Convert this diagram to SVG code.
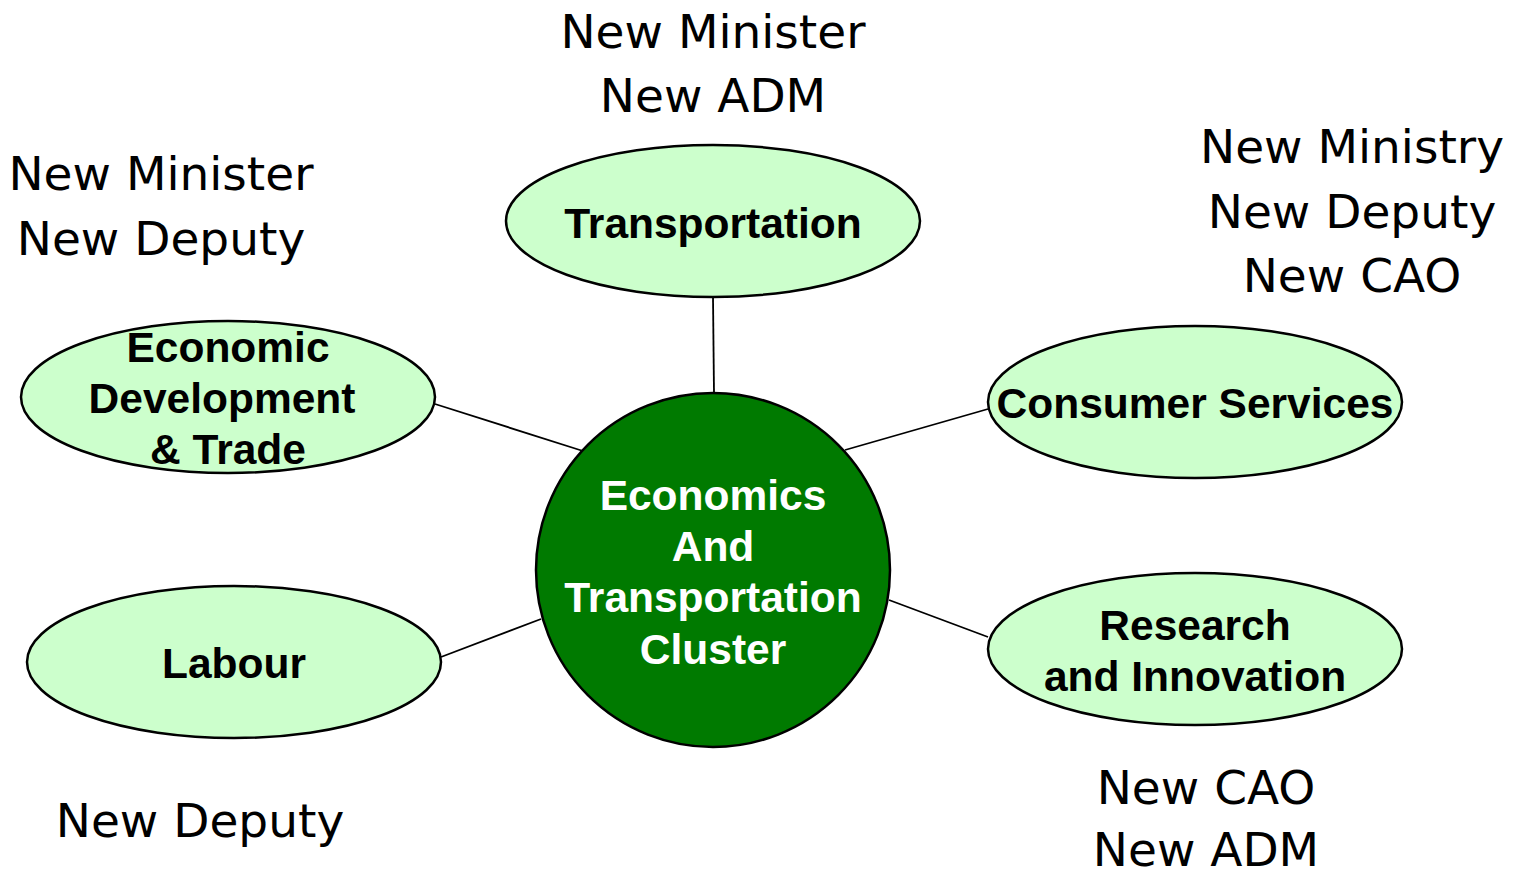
<svg xmlns="http://www.w3.org/2000/svg" width="1522" height="876" viewBox="0 0 1522 876">
<style>
.leaf{fill:#ccffcc;stroke:#000;stroke-width:2.5}
.hub{fill:#007a00;stroke:#000;stroke-width:2.5}
.lbl{font-family:"Liberation Sans",Arial,sans-serif;font-weight:bold;font-size:42.5px;text-anchor:middle;fill:#000}
.hubl{font-family:"Liberation Sans",Arial,sans-serif;font-weight:bold;font-size:42.5px;text-anchor:middle;fill:#fff}
.note{font-family:"DejaVu Sans",Verdana,sans-serif;font-size:47px;text-anchor:middle;fill:#000}
.conn{stroke:#000;stroke-width:1.8;fill:none}
</style>
<rect width="1522" height="876" fill="#fff"/>
<g id="connectors">
<line class="conn" x1="713" y1="297" x2="714" y2="394"/>
<line class="conn" x1="435" y1="404" x2="583" y2="451"/>
<line class="conn" x1="988" y1="409" x2="845" y2="450"/>
<line class="conn" x1="441" y1="657" x2="541" y2="619"/>
<line class="conn" x1="988" y1="637" x2="889" y2="600"/>
</g>
<g id="hub">
<circle class="hub" cx="713" cy="570" r="177"/>
<text class="hubl" x="713" y="510">Economics</text>
<text class="hubl" x="713" y="561">And</text>
<text class="hubl" x="713" y="612">Transportation</text>
<text class="hubl" x="713" y="664">Cluster</text>
</g>
<g id="transportation">
<ellipse class="leaf" cx="713" cy="221" rx="207" ry="76"/>
<text class="lbl" x="713" y="238">Transportation</text>
</g>
<g id="econdev">
<ellipse class="leaf" cx="228" cy="397" rx="207" ry="76"/>
<text class="lbl" x="228" y="362">Economic</text>
<text class="lbl" x="222" y="413">Development</text>
<text class="lbl" x="228" y="464">&amp; Trade</text>
</g>
<g id="consumer">
<ellipse class="leaf" cx="1195" cy="402" rx="207" ry="76"/>
<text class="lbl" x="1195" y="418">Consumer Services</text>
</g>
<g id="labour">
<ellipse class="leaf" cx="234" cy="662" rx="207" ry="76"/>
<text class="lbl" x="234" y="678">Labour</text>
</g>
<g id="research">
<ellipse class="leaf" cx="1195" cy="649" rx="207" ry="76"/>
<text class="lbl" x="1195" y="640">Research</text>
<text class="lbl" x="1195" y="691">and Innovation</text>
</g>
<g id="notes">
<text class="note" x="713" y="48">New Minister</text>
<text class="note" x="713" y="112">New ADM</text>
<text class="note" x="161" y="190">New Minister</text>
<text class="note" x="161" y="255">New Deputy</text>
<text class="note" x="1352" y="163">New Ministry</text>
<text class="note" x="1352" y="228">New Deputy</text>
<text class="note" x="1352" y="292">New CAO</text>
<text class="note" x="200" y="837">New Deputy</text>
<text class="note" x="1206" y="804">New CAO</text>
<text class="note" x="1206" y="866">New ADM</text>
</g>
</svg>
